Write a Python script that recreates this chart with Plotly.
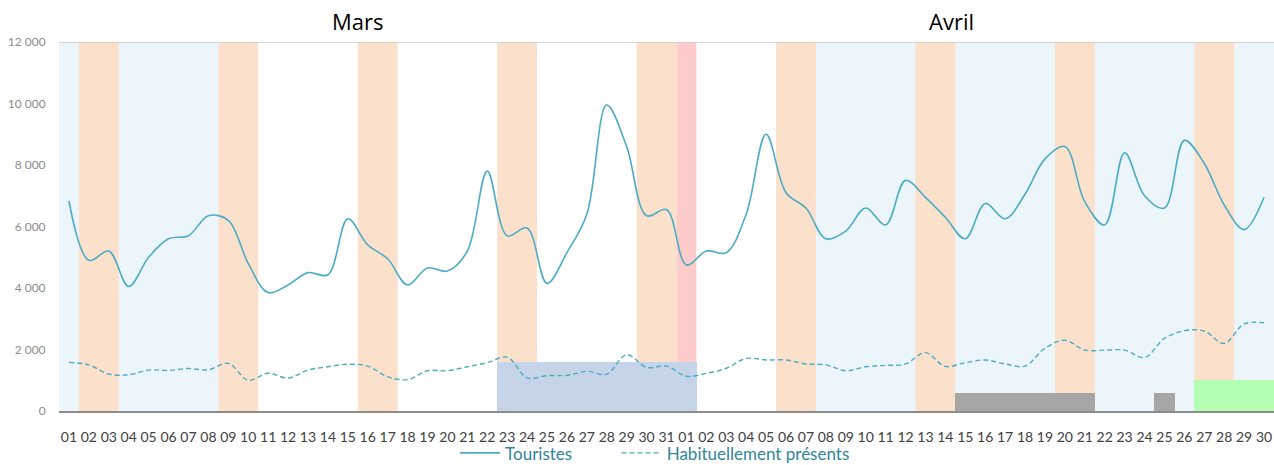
import plotly.graph_objects as go

# ---- data ----
mars_days = [f"{d:02d}" for d in range(1, 32)]
avril_days = [f"{d:02d}" for d in range(1, 31)]
day_labels = mars_days + avril_days

touristes = [6830, 4900, 5200, 4050, 5000, 5600, 5700, 6350, 6200, 4800,
             3850, 4100, 4500, 4430, 6250, 5400, 4950, 4100, 4650, 4550,
             5200, 7800, 5700, 5950, 4150, 5150, 6400, 9950, 8600, 6350,
             6550,
             4750, 5200, 5150, 6400, 9000, 7100, 6600, 5600, 5850, 6600,
             6050, 7500, 6950, 6300, 5600, 6750, 6250, 7050, 8200, 8600,
             6800, 6050, 8400, 7000, 6600, 8800, 8050, 6700, 5900, 6950]

habituels = [1580, 1500, 1200, 1180, 1330, 1320, 1380, 1340, 1550, 1000,
             1230, 1070, 1330, 1440, 1520, 1460, 1115, 1020, 1310, 1310,
             1440, 1570, 1750, 1080, 1150, 1160, 1290, 1200, 1830, 1420,
             1460,
             1130, 1225, 1390, 1710, 1660, 1660, 1530, 1500, 1310, 1440,
             1485, 1530, 1900, 1450, 1570, 1660, 1530, 1460, 2040, 2300,
             1980, 1980, 1980, 1740, 2360, 2610, 2600, 2200, 2830, 2870]

# day indices (0 = 1 March, 31 = 1 April)
vacances_ranges = [(0, 7), (38, 60)]                       # light blue
weekend_ranges = [(1, 2), (8, 9), (15, 16), (22, 23), (29, 30),
                  (36, 37), (43, 44), (50, 51), (57, 58)]  # orange
ferie_ranges = [(31, 31)]                                  # pink

event_blue_days = list(range(22, 32))
event_blue_vals = [1600] * len(event_blue_days)
event_gray_days = list(range(45, 52)) + [55]
event_gray_vals = [600] * len(event_gray_days)
event_green_days = list(range(57, 61))
event_green_vals = [1000] * len(event_green_days)

y_ticks = [0, 2000, 4000, 6000, 8000, 10000, 12000]
y_ticktext = ["0", "2 000", "4 000", "6 000", "8 000", "10 000", "12 000"]

months = ["Mars", "Avril"]
month_pos = [14.5, 44.3]

# ---- figure ----
x = list(range(len(day_labels)))
fig = go.Figure()

for days, vals, col in [
    (event_blue_days, event_blue_vals, "#C5D4E9"),
    (event_gray_days, event_gray_vals, "#A6A6A6"),
    (event_green_days, event_green_vals, "#B4FFB4"),
]:
    fig.add_trace(go.Bar(x=days, y=vals, width=1.02, marker=dict(color=col, line=dict(width=0)),
                         showlegend=False, hoverinfo="skip"))

fig.add_trace(go.Scatter(x=x, y=touristes, mode="lines", name="Touristes", legend="legend",
                         line=dict(color="#4BACC6", width=1.6, shape="spline", smoothing=1)))
fig.add_trace(go.Scatter(x=x, y=habituels, mode="lines", name="Habituellement présents",
                         legend="legend2",
                         line=dict(color="#4BACC6", width=1.4, shape="spline", smoothing=1,
                                   dash="5px,3px")))

shapes = []
for ranges, col in [(vacances_ranges, "#ECF5F9"), (weekend_ranges, "#FBE0CC"),
                    (ferie_ranges, "#FFCCCC")]:
    for a, b in ranges:
        shapes.append(dict(type="rect", xref="x", yref="y", x0=a - 0.5, x1=b + 0.5,
                           y0=0, y1=y_ticks[-1], fillcolor=col, line=dict(width=0), layer="below"))
shapes.append(dict(type="line", xref="paper", yref="y", x0=0, x1=1, y0=y_ticks[-1], y1=y_ticks[-1],
                   line=dict(color="#CCCCCC", width=1.5)))

annotations = [dict(x=p, y=1.0, xref="x", yref="paper", yanchor="bottom", yshift=4,
                    text=m, showarrow=False,
                    font=dict(size=22, color="#000000", family="Open Sans, sans-serif"))
               for m, p in zip(months, month_pos)]

legend_style = dict(orientation="h", xanchor="left", y=-0.066, yanchor="top",
                    font=dict(size=17, color="#31859C"), itemwidth=40,
                    bgcolor="rgba(0,0,0,0)")

fig.update_layout(
    width=1274, height=465,
    margin=dict(l=59, r=0, t=42, b=54, autoexpand=False),
    paper_bgcolor="white", plot_bgcolor="white",
    font=dict(family="Lato, Open Sans, sans-serif"),
    barmode="overlay", bargap=0,
    shapes=shapes, annotations=annotations,
    legend=dict(x=0.326, **legend_style),
    legend2=dict(x=0.459, **legend_style),
    xaxis=dict(range=[-0.5, len(day_labels) - 0.5], tickvals=x, ticktext=day_labels,
               tickfont=dict(size=14, color="#404040"), showgrid=False, zeroline=False,
               showline=True, linecolor="#8C8C8C", linewidth=1.5,
               ticks="outside", ticklen=12, tickcolor="rgba(0,0,0,0)"),
    yaxis=dict(range=[0, y_ticks[-1]], tickvals=y_ticks, ticktext=y_ticktext,
               tickfont=dict(size=12, color="#8C8C8C"), showgrid=False, zeroline=False,
               showline=False, ticks="outside", ticklen=10, tickcolor="rgba(0,0,0,0)"),
)

fig.write_html("out.html", config={"displayModeBar": False},
               post_script="document.body.style.margin='0';document.body.style.overflow='hidden';")
